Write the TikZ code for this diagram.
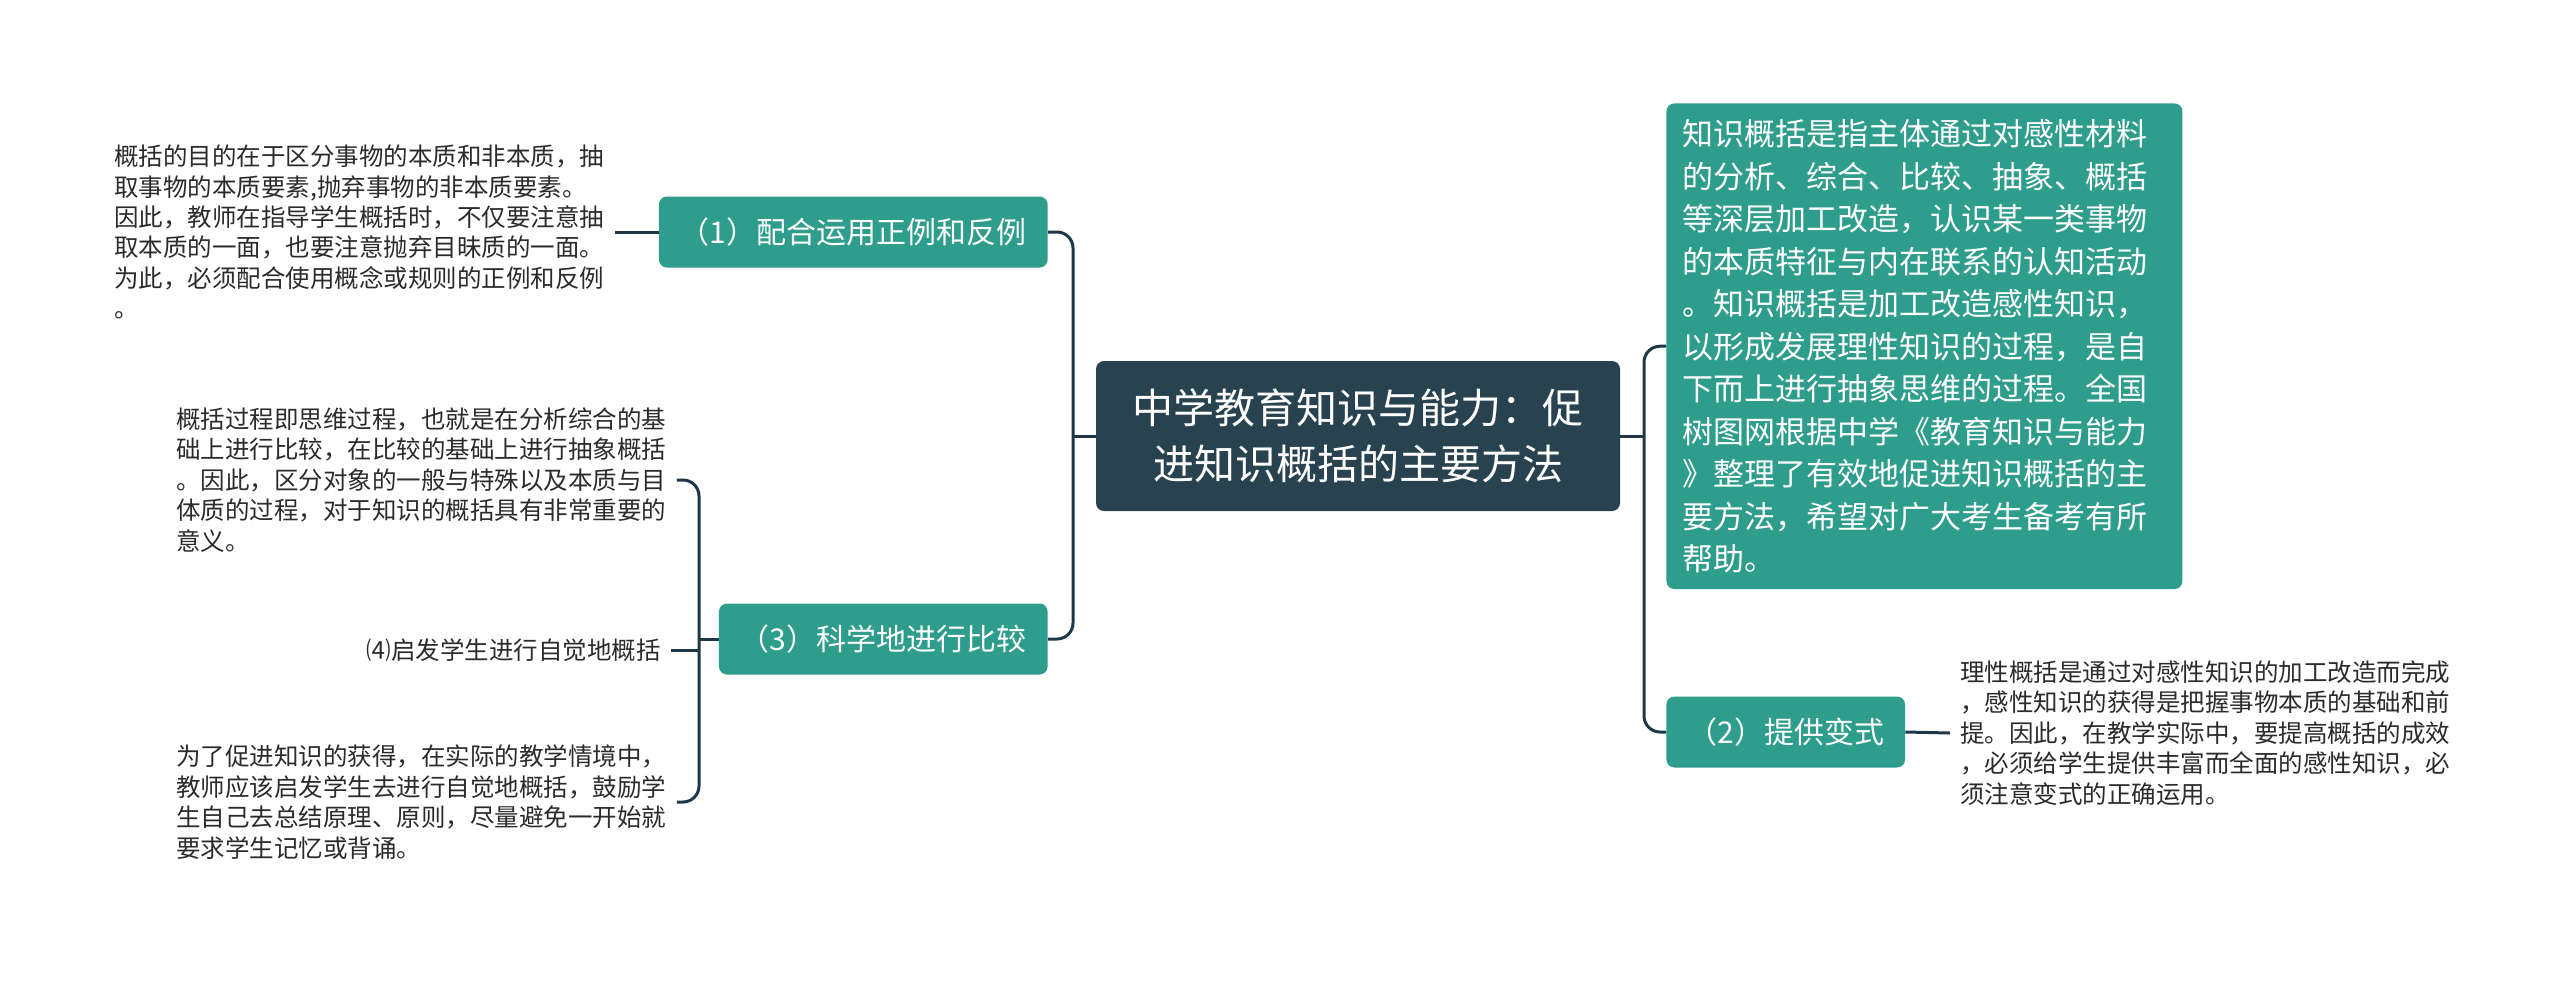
\documentclass[tikz,border=0pt]{standalone}
\usepackage{fontspec}
\setmainfont{Noto Sans CJK SC}
\usetikzlibrary{positioning}
\definecolor{rootfill}{HTML}{28434F}
\definecolor{branchfill}{HTML}{2E9D8C}
\definecolor{linecol}{HTML}{1F3848}
\definecolor{leafcol}{HTML}{2B2B2B}
\tikzset{
  rootbox/.style={fill=rootfill, rounded corners=4pt, text=white, align=center,
    minimum width=262pt, minimum height=75pt, font=\fontsize{20.5}{27.8}\selectfont},
  branchbox/.style={fill=branchfill, rounded corners=4pt, text=white,
    minimum height=35.5pt, inner xsep=10.5pt, font=\fontsize{15}{18}\selectfont},
  infobox/.style={fill=branchfill, rounded corners=4pt, text=white, align=left,
    text width=242pt, inner xsep=8pt, inner ysep=8pt, font=\fontsize{15.5}{21.25}\selectfont},
  leaftext/.style={align=left, text=leafcol, inner xsep=5pt, font=\fontsize{12.25}{15.2}\selectfont},
  conn/.style={draw=linecol, line width=1.5pt},
  elbow/.style={conn, rounded corners=8pt}
}
\begin{document}
\begin{tikzpicture}[x=0.5pt,y=-0.5pt]
\fill[white] (0,0) rectangle (2560,982);
\useasboundingbox (0,0) rectangle (2560,982);
% central topic
\node[rootbox] (root) at (1358,436) {中学教育知识与能力：促\\进知识概括的主要方法};
% left branches
\node[branchbox, anchor=east] (n1) at (1048,232) {（1）配合运用正例和反例};
\node[branchbox, anchor=east] (n3) at (1048,639) {（3）科学地进行比较};
% right branches
\node[infobox, anchor=north west] (info) at (1666,103) {知识概括是指主体通过对感性材料\\
的分析、综合、比较、抽象、概括\\
等深层加工改造，认识某一类事物\\
的本质特征与内在联系的认知活动\\
。知识概括是加工改造感性知识，\\
以形成发展理性知识的过程，是自\\
下而上进行抽象思维的过程。全国\\
树图网根据中学《教育知识与能力\\
》整理了有效地促进知识概括的主\\
要方法，希望对广大考生备考有所\\
帮助。};
\node[branchbox, anchor=west] (n2) at (1666,732) {（2）提供变式};
% leaves
\node[leaftext, anchor=west] (t1) at (104,232) {概括的目的在于区分事物的本质和非本质，抽\\
取事物的本质要素,抛弃事物的非本质要素。\\
因此，教师在指导学生概括时，不仅要注意抽\\
取本质的一面，也要注意抛弃目昧质的一面。\\
为此，必须配合使用概念或规则的正例和反例\\
。};
\node[leaftext, anchor=west] (t3a) at (166,480) {概括过程即思维过程，也就是在分析综合的基\\
础上进行比较，在比较的基础上进行抽象概括\\
。因此，区分对象的一般与特殊以及本质与目\\
体质的过程，对于知识的概括具有非常重要的\\
意义。};
\node[leaftext, anchor=east] (t4) at (671,650) {⑷启发学生进行自觉地概括};
\node[leaftext, anchor=west] (t3c) at (166,802) {为了促进知识的获得，在实际的教学情境中，\\
教师应该启发学生去进行自觉地概括，鼓励学\\
生自己去总结原理、原则，尽量避免一开始就\\
要求学生记忆或背诵。};
\node[leaftext, anchor=west] (t2) at (1950,733) {理性概括是通过对感性知识的加工改造而完成\\
，感性知识的获得是把握事物本质的基础和前\\
提。因此，在教学实际中，要提高概括的成效\\
，必须给学生提供丰富而全面的感性知识，必\\
须注意变式的正确运用。};
% connectors
\coordinate (lbus) at (1073,436);
\coordinate (rbus) at (1644,436);
\coordinate (mbus) at (699,639);
\draw[conn] (root.west) -- (lbus);
\draw[elbow] (lbus) |- (n1.east);
\draw[elbow] (lbus) |- (n3.east);
\draw[conn] (root.east) -- (rbus);
\draw[elbow] (rbus) |- (info.west);
\draw[elbow] (rbus) |- (n2.west);
\draw[conn] (n1.west) -- (t1.east);
\draw[conn] (n3.west) -- (mbus);
\draw[elbow] (mbus) |- (t3a.east);
\draw[elbow] (mbus) |- (t3c.east);
\draw[conn] (t4.east) -- (t4.east -| mbus);
\draw[conn] (n2.east) -- (t2.west);
\end{tikzpicture}
\end{document}
